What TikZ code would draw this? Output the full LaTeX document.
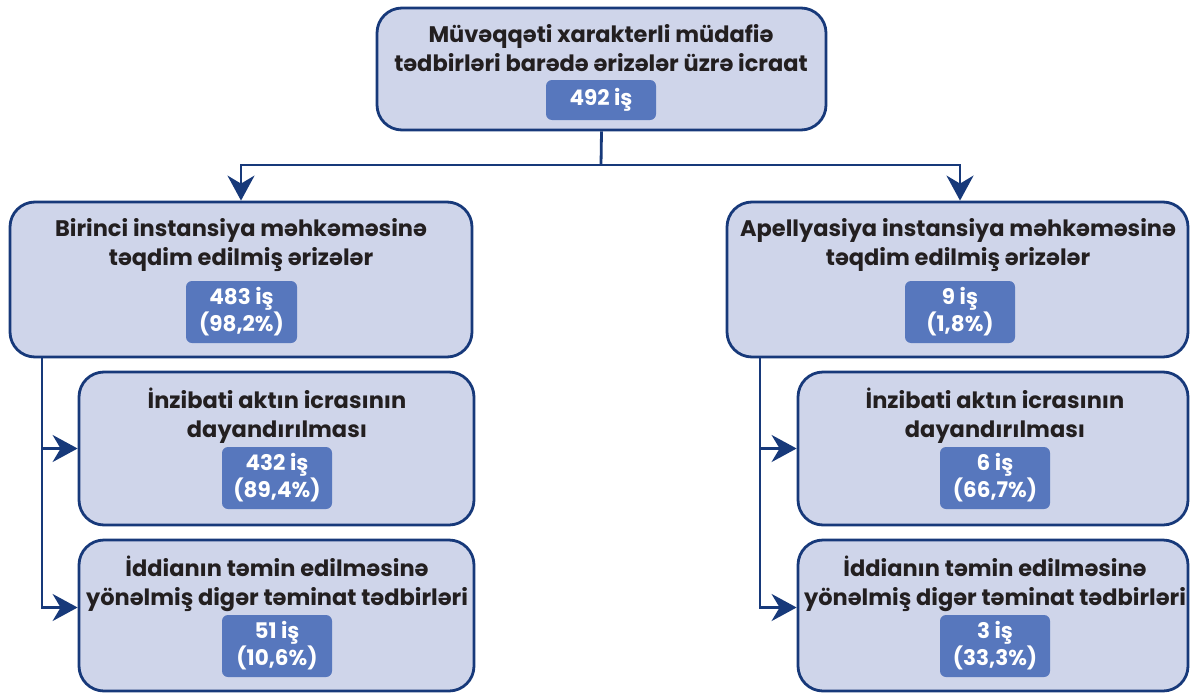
\documentclass[tikz,border=0pt]{standalone}
\usepackage{fontspec}
\setmainfont{Poppins}
\usetikzlibrary{arrows.meta,calc}
\definecolor{boxfill}{HTML}{CFD5EA}
\definecolor{navy}{HTML}{17397A}
\definecolor{badgefill}{HTML}{5777BD}
\definecolor{txt}{HTML}{231F20}
\tikzset{
  bigbox/.style={draw=navy, fill=boxfill, line width=2.8pt, rounded corners=25pt, inner sep=0pt},
  badge/.style={fill=badgefill, rounded corners=6pt, text=white, align=center, inner sep=0pt,
    font=\fontsize{21.5}{27}\selectfont\bfseries},
  title/.style={text=txt, align=center, inner sep=0pt, font=\fontsize{22.5}{29}\selectfont\bfseries},
  conn/.style={draw=navy, line width=2.8pt},
  arr/.style={conn, -{Stealth[length=25pt,width=27pt,inset=8pt]}}
}
\begin{document}
\begin{tikzpicture}[x=1pt,y=-1pt]
\useasboundingbox (0,0) rectangle (1190,693);
% boxes
\node[bigbox, minimum width=449pt, minimum height=122pt] (top) at (601.5,69) {};
\node[bigbox, minimum width=462pt, minimum height=155pt] (b1) at (241,279.5) {};
\node[bigbox, minimum width=461pt, minimum height=155pt] (b2) at (957.5,279.5) {};
\node[bigbox, minimum width=395pt, minimum height=153pt] (s1) at (276.5,448.5) {};
\node[bigbox, minimum width=395pt, minimum height=151pt] (s2) at (276.5,615.5) {};
\node[bigbox, minimum width=390pt, minimum height=153pt] (r1) at (993,448.5) {};
\node[bigbox, minimum width=390pt, minimum height=151pt] (r2) at (993,615.5) {};
% titles
\node[title] (ttop) at (601,48.5) {Müvəqqəti xarakterli müdafiə\\tədbirləri barədə ərizələr üzrə icraat};
\node[title] (tb1) at (241,245) {Birinci instansiya məhkəməsinə\\təqdim edilmiş ərizələr};
\node[title] (tb2) at (958,245) {Apellyasiya instansiya məhkəməsinə\\təqdim edilmiş ərizələr};
\node[title] (ts1) at (277,416) {İnzibati aktın icrasının\\dayandırılması};
\node[title] (ts2) at (277,584) {İddianın təmin edilməsinə\\yönəlmiş digər təminat tədbirləri};
\node[title] (tr1) at (995,416) {İnzibati aktın icrasının\\dayandırılması};
\node[title] (tr2) at (995,584) {İddianın təmin edilməsinə\\yönəlmiş digər təminat tədbirləri};
% badges
\node[badge, minimum width=110pt, minimum height=40pt] (btop) at (601,100) {492 iş};
\node[badge, minimum width=111pt, minimum height=62pt] (bb1) at (241.5,312) {483 iş\\(98,2\%)};
\node[badge, minimum width=110pt, minimum height=62pt] (bb2) at (960,312) {9 iş\\(1,8\%)};
\node[badge, minimum width=110pt, minimum height=62pt] (bs1) at (277,478) {432 iş\\(89,4\%)};
\node[badge, minimum width=110pt, minimum height=62pt] (bs2) at (277,646) {51 iş\\(10,6\%)};
\node[badge, minimum width=110pt, minimum height=62pt] (br1) at (995,478) {6 iş\\(66,7\%)};
\node[badge, minimum width=110pt, minimum height=62pt] (br2) at (995,646) {3 iş\\(33,3\%)};
% connectors
\coordinate (j) at (601,165);
\draw[conn] (top.south) -- (j);
\draw[arr] (j) -| (b1.north);
\draw[arr] (j) -| ([xshift=2.5pt]b2.north);
\coordinate (l0) at (42,357);
\draw[arr] (l0) |- (s1.west);
\draw[arr] (l0) |- ([yshift=8pt]s2.west);
\coordinate (m0) at (760,357);
\draw[arr] (m0) |- (r1.west);
\draw[arr] (m0) |- ([yshift=8pt]r2.west);
\end{tikzpicture}
\end{document}
